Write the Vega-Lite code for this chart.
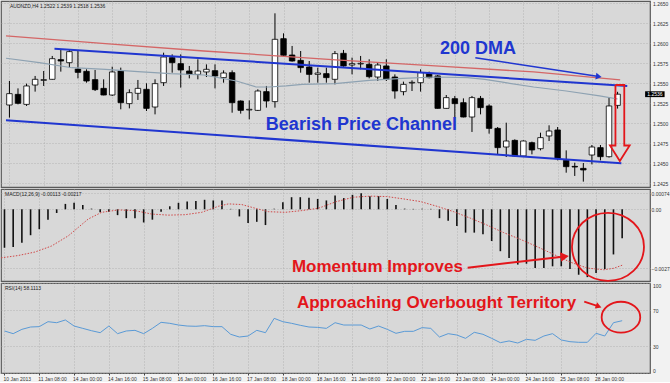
{
"$schema": "https://vega.github.io/schema/vega-lite/v6.json",
"background": "#f2f2f2",
"padding": 0,
"spacing": 2,
"bounds": "flush",
"config": {
  "view": {"fill": "#d8d8d8", "stroke": "#5a5a5a", "strokeWidth": 1.2},
  "axis": {"title": null, "labelFont": "Liberation Sans", "labelFontSize": 5, "labelColor": "#333333", "gridColor": "#a6a6a6", "gridDash": [1, 2], "gridWidth": 0.7, "domain": false, "tickColor": "#444444", "tickSize": 2, "labelPadding": 2, "minExtent": 0, "labelOverlap": false, "labelSeparation": 0, "labelBound": false},
  "text": {"font": "Liberation Sans"}
},
"resolve": {"scale": {"x": "independent", "y": "independent"}},
"datasets": {
  "candles": [
{"i":0,"o":1.25225,"h":1.25525,"l":1.25067,"c":1.25367,"m":-0.00178,"r":46.7},
{"i":1,"o":1.25358,"h":1.25433,"l":1.25233,"c":1.25246,"m":-0.00175,"r":43.7},
{"i":2,"o":1.25233,"h":1.25492,"l":1.25213,"c":1.25463,"m":-0.00155,"r":48.5},
{"i":3,"o":1.25475,"h":1.25588,"l":1.25392,"c":1.25546,"m":-0.0012,"r":51.1},
{"i":4,"o":1.25533,"h":1.2565,"l":1.25463,"c":1.25542,"m":-0.00092,"r":51.5},
{"i":5,"o":1.25546,"h":1.25838,"l":1.25542,"c":1.25804,"m":-0.00048,"r":57.0},
{"i":6,"o":1.25792,"h":1.25921,"l":1.25642,"c":1.25775,"m":-0.00017,"r":55.9},
{"i":7,"o":1.25754,"h":1.25913,"l":1.25692,"c":1.25892,"m":0.00025,"r":58.9},
{"i":8,"o":1.25675,"h":1.25908,"l":1.25558,"c":1.25633,"m":0.0003,"r":52.2},
{"i":9,"o":1.25646,"h":1.25671,"l":1.25504,"c":1.25525,"m":0.0002,"r":49.6},
{"i":10,"o":1.25542,"h":1.25663,"l":1.254,"c":1.25417,"m":0.00003,"r":47.0},
{"i":11,"o":1.25433,"h":1.25546,"l":1.25346,"c":1.2535,"m":-0.00014,"r":44.8},
{"i":12,"o":1.2535,"h":1.25704,"l":1.25338,"c":1.25638,"m":-0.00011,"r":52.2},
{"i":13,"o":1.2565,"h":1.25692,"l":1.25171,"c":1.25254,"m":-0.00027,"r":43.7},
{"i":14,"o":1.25242,"h":1.25421,"l":1.25183,"c":1.25379,"m":-0.00041,"r":46.7},
{"i":15,"o":1.25371,"h":1.25538,"l":1.25288,"c":1.25433,"m":-0.00041,"r":47.4},
{"i":16,"o":1.25421,"h":1.25496,"l":1.2515,"c":1.25183,"m":-0.00061,"r":43.7},
{"i":17,"o":1.252,"h":1.25546,"l":1.25108,"c":1.25492,"m":-0.00048,"r":49.6},
{"i":18,"o":1.25504,"h":1.25879,"l":1.25463,"c":1.25825,"m":-0.00011,"r":56.3},
{"i":19,"o":1.25817,"h":1.25858,"l":1.25629,"c":1.25754,"m":0.00014,"r":55.2},
{"i":20,"o":1.25742,"h":1.25858,"l":1.25442,"c":1.25663,"m":0.0003,"r":53.3},
{"i":21,"o":1.2565,"h":1.25713,"l":1.25558,"c":1.25608,"m":0.00036,"r":52.2},
{"i":22,"o":1.25608,"h":1.25796,"l":1.25546,"c":1.2565,"m":0.00038,"r":51.9},
{"i":23,"o":1.25638,"h":1.25733,"l":1.25575,"c":1.25671,"m":0.00044,"r":52.6},
{"i":24,"o":1.25654,"h":1.25733,"l":1.25433,"c":1.25588,"m":0.00041,"r":51.5},
{"i":25,"o":1.25567,"h":1.25658,"l":1.25504,"c":1.25625,"m":0.00041,"r":51.5},
{"i":26,"o":1.25629,"h":1.25658,"l":1.25129,"c":1.25254,"m":0.00002,"r":43.0},
{"i":27,"o":1.25275,"h":1.25283,"l":1.25117,"c":1.25158,"m":-0.00033,"r":40.0},
{"i":28,"o":1.25163,"h":1.25283,"l":1.25046,"c":1.25171,"m":-0.00064,"r":41.1},
{"i":29,"o":1.25158,"h":1.25421,"l":1.2515,"c":1.254,"m":-0.00058,"r":47.4},
{"i":30,"o":1.25392,"h":1.25463,"l":1.25192,"c":1.25275,"m":-0.00073,"r":44.8},
{"i":31,"o":1.25267,"h":1.26371,"l":1.25192,"c":1.26046,"m":0.00002,"r":60.7},
{"i":32,"o":1.26054,"h":1.26121,"l":1.25838,"c":1.25846,"m":0.00033,"r":57.0},
{"i":33,"o":1.2585,"h":1.25963,"l":1.25767,"c":1.25775,"m":0.00056,"r":55.2},
{"i":34,"o":1.25783,"h":1.259,"l":1.25629,"c":1.25692,"m":0.00056,"r":53.0},
{"i":35,"o":1.257,"h":1.25775,"l":1.25504,"c":1.25608,"m":0.00053,"r":51.1},
{"i":36,"o":1.25608,"h":1.25692,"l":1.25504,"c":1.25625,"m":0.00048,"r":50.7},
{"i":37,"o":1.25617,"h":1.25692,"l":1.25504,"c":1.25567,"m":0.00041,"r":49.6},
{"i":38,"o":1.25546,"h":1.259,"l":1.25483,"c":1.25867,"m":0.00064,"r":55.9},
{"i":39,"o":1.25871,"h":1.25913,"l":1.25704,"c":1.25713,"m":0.00052,"r":53.3},
{"i":40,"o":1.25725,"h":1.25817,"l":1.25608,"c":1.25742,"m":0.00067,"r":53.3},
{"i":41,"o":1.25738,"h":1.25838,"l":1.25671,"c":1.25746,"m":0.00074,"r":53.3},
{"i":42,"o":1.25733,"h":1.25796,"l":1.25558,"c":1.25579,"m":0.00061,"r":48.9},
{"i":43,"o":1.25575,"h":1.25754,"l":1.25525,"c":1.25725,"m":0.00061,"r":52.2},
{"i":44,"o":1.25713,"h":1.25796,"l":1.25525,"c":1.25546,"m":0.00048,"r":48.5},
{"i":45,"o":1.25575,"h":1.25608,"l":1.25304,"c":1.254,"m":0.0002,"r":44.1},
{"i":46,"o":1.25392,"h":1.25517,"l":1.25346,"c":1.25483,"m":0.00003,"r":46.3},
{"i":47,"o":1.255,"h":1.25533,"l":1.254,"c":1.25508,"m":0.00002,"r":46.3},
{"i":48,"o":1.25504,"h":1.25671,"l":1.25392,"c":1.25629,"m":0.00002,"r":50.4},
{"i":49,"o":1.25617,"h":1.25642,"l":1.25558,"c":1.25567,"m":0.00002,"r":49.6},
{"i":50,"o":1.25588,"h":1.256,"l":1.2518,"c":1.25183,"m":-0.00041,"r":40.0},
{"i":51,"o":1.25183,"h":1.2535,"l":1.2518,"c":1.25317,"m":-0.00053,"r":43.7},
{"i":52,"o":1.25304,"h":1.25338,"l":1.25067,"c":1.25242,"m":-0.00077,"r":42.2},
{"i":53,"o":1.25254,"h":1.25308,"l":1.2507,"c":1.25075,"m":-0.00108,"r":38.5},
{"i":54,"o":1.25075,"h":1.25338,"l":1.24888,"c":1.25317,"m":-0.00108,"r":45.2},
{"i":55,"o":1.25308,"h":1.25338,"l":1.25108,"c":1.25192,"m":-0.00116,"r":43.0},
{"i":56,"o":1.25213,"h":1.25233,"l":1.24867,"c":1.24933,"m":-0.00147,"r":38.5},
{"i":57,"o":1.24933,"h":1.2495,"l":1.246,"c":1.24692,"m":-0.00194,"r":33.7},
{"i":58,"o":1.247,"h":1.25004,"l":1.24575,"c":1.24775,"m":-0.00225,"r":35.6},
{"i":59,"o":1.24783,"h":1.24796,"l":1.24575,"c":1.24588,"m":-0.00256,"r":33.3},
{"i":60,"o":1.24588,"h":1.24783,"l":1.24575,"c":1.24775,"m":-0.00252,"r":37.4},
{"i":61,"o":1.24754,"h":1.24767,"l":1.24608,"c":1.24663,"m":-0.00272,"r":36.3},
{"i":62,"o":1.24679,"h":1.24879,"l":1.24658,"c":1.24817,"m":-0.00272,"r":41.1},
{"i":63,"o":1.24838,"h":1.24971,"l":1.24775,"c":1.249,"m":-0.00264,"r":43.7},
{"i":64,"o":1.24913,"h":1.2495,"l":1.24533,"c":1.24554,"m":-0.00264,"r":36.7},
{"i":65,"o":1.24533,"h":1.24658,"l":1.24379,"c":1.24454,"m":-0.00277,"r":34.8},
{"i":66,"o":1.24458,"h":1.24504,"l":1.24338,"c":1.2445,"m":-0.00303,"r":34.1},
{"i":67,"o":1.24433,"h":1.245,"l":1.24267,"c":1.24413,"m":-0.00314,"r":34.1},
{"i":68,"o":1.246,"h":1.24725,"l":1.24483,"c":1.247,"m":-0.00295,"r":44.1},
{"i":69,"o":1.24692,"h":1.24725,"l":1.24533,"c":1.24579,"m":-0.00277,"r":41.1},
{"i":70,"o":1.24579,"h":1.25317,"l":1.24567,"c":1.25213,"m":-0.00209,"r":55.9},
{"i":71,"o":1.2522,"h":1.2539,"l":1.2518,"c":1.2536,"m":-0.00134,"r":58.1}
  ],
  "ma50": [{"i":-0.4,"v":1.25809},{"i":3.5,"v":1.25754},{"i":7.3,"v":1.25691},{"i":11.2,"v":1.25671},{"i":15,"v":1.25641},{"i":18.8,"v":1.25616},{"i":22.7,"v":1.256},{"i":26.5,"v":1.25525},{"i":28.8,"v":1.2545},{"i":30.3,"v":1.2545},{"i":32.3,"v":1.25463},{"i":34.2,"v":1.25484},{"i":38,"v":1.25491},{"i":42,"v":1.25534},{"i":45.9,"v":1.25559},{"i":49.7,"v":1.25575},{"i":53.5,"v":1.25566},{"i":55.5,"v":1.25546},{"i":57.4,"v":1.25513},{"i":61.2,"v":1.2545},{"i":65,"v":1.254},{"i":68.9,"v":1.25338},{"i":71,"v":1.253}],
  "ma200": [{"i":-0.4,"v":1.26088},{"i":11.2,"v":1.25991},{"i":22.7,"v":1.259},{"i":30.3,"v":1.25846},{"i":38.1,"v":1.2579},{"i":49.7,"v":1.25713},{"i":61.2,"v":1.25638},{"i":71.3,"v":1.25538}],
  "channel": [{"g":"upper","i":5.26,"p":1.25929},{"g":"upper","i":72.13,"p":1.25463},{"g":"lower","i":-0.4,"p":1.25034},{"g":"lower","i":71.44,"p":1.24496}],
  "dmaArrow": [{"i":54.39,"p":1.25816},{"i":68.8,"p":1.25581}],
  "dmaHead": [{"i":68.8,"p":1.25581}],
  "downArrow": [{"k":1,"i":70.75,"p":1.25475},{"k":2,"i":71.78,"p":1.25475},{"k":3,"i":71.78,"p":1.24719},{"k":4,"i":72.41,"p":1.24719},{"k":5,"i":71.26,"p":1.24525},{"k":6,"i":70.11,"p":1.24719},{"k":7,"i":70.75,"p":1.24719},{"k":8,"i":70.75,"p":1.25475}],
  "mainText": [{"i":54.71,"p":1.25931,"t":"200 DMA"},{"i":41.09,"p":1.24969,"t":"Bearish Price Channel"}],
  "mainHeader": [{"i":0.06,"p":1.26463,"t":"AUDNZD,H4  1.2522 1.2539 1.2518 1.2536"}],
  "tag": [{"i":75.35,"p":1.2536,"t":"1.2536"}],
  "signal": [{"i":-0.4,"v":-0.00225},{"i":1.57,"v":-0.00214},{"i":3.49,"v":-0.00198},{"i":5.41,"v":-0.0017},{"i":7.33,"v":-0.00123},{"i":8.48,"v":-0.00084},{"i":9.63,"v":-0.00045},{"i":11.16,"v":-0.00014},{"i":13.08,"v":-0.00003},{"i":15,"v":-0.00006},{"i":16.9,"v":-0.00022},{"i":18.83,"v":-0.00027},{"i":20.75,"v":-0.00025},{"i":22.67,"v":-0.00014},{"i":24.59,"v":0.00014},{"i":25.74,"v":0.00025},{"i":27.27,"v":0.00022},{"i":28.81,"v":0.00005},{"i":30.34,"v":-0.00011},{"i":32.26,"v":-0.00014},{"i":34.18,"v":-0.00006},{"i":36.1,"v":0.00005},{"i":38.1,"v":0.00035},{"i":40.12,"v":0.00056},{"i":42.04,"v":0.00061},{"i":43.95,"v":0.00059},{"i":45.87,"v":0.00048},{"i":47.79,"v":0.00036},{"i":49.71,"v":0.00014},{"i":51.63,"v":-0.00011},{"i":53.55,"v":-0.00041},{"i":55.46,"v":-0.00073},{"i":57.38,"v":-0.00108},{"i":59.3,"v":-0.00139},{"i":61.22,"v":-0.00173},{"i":63.14,"v":-0.00209},{"i":65.06,"v":-0.00245},{"i":66.97,"v":-0.00272},{"i":68.89,"v":-0.0028},{"i":70.04,"v":-0.00273},{"i":71.0,"v":-0.00259}],
  "macdCircle": [{"i":69.37,"v":-0.001736}],
  "macdText": [{"i":42.87,"v":-0.002694,"t":"Momentum Improves"}],
  "macdArrow": [{"i":53.24,"v":-0.002704},{"i":64.4,"v":-0.00219}],
  "macdHead": [{"i":64.4,"v":-0.00219}],
  "macdHeader": [{"i":0.06,"v":0.000708,"t":"MACD(12,26,9) -0.00113 -0.00217"}],
  "rsiText": [{"i":49.66,"r":78.3,"t":"Approaching Overbought Territory"}],
  "rsiArrow": [{"i":66.64,"r":79.2},{"i":68.3,"r":74.0}],
  "rsiHead": [{"i":68.3,"r":74.0}],
  "rsiCircle": [{"i":70.86,"r":62.0}],
  "rsiHeader": [{"i":0.06,"r":94.4,"t":"RSI(14) 58.1113"}]
},
"vconcat": [
{
  "width": 649, "height": 186,
  "encoding": {"x": {"field": "i", "type": "quantitative", "scale": {"domain": [-0.4, 74.2], "nice": false, "zero": false}, "axis": {"values": [0,4,8,12,16,20,24,28,32,36,40,44,48,52,56,60,64,68], "labels": false, "ticks": false, "grid": true}}},
  "layer": [
    {"data": {"name": "candles"}, "mark": {"type": "rule", "color": "#000000", "strokeWidth": 1},
     "encoding": {"y": {"field": "l", "type": "quantitative", "scale": {"domain": [1.242, 1.26525], "nice": false, "zero": false}, "axis": {"orient": "right", "values": [1.2425,1.245,1.2475,1.25,1.2525,1.255,1.2575,1.26,1.2625,1.265], "format": ".4f", "grid": true, "ticks": false, "labelPadding": 2.5, "labelOverlap": false}}, "y2": {"field": "h"}}},
    {"data": {"name": "candles"}, "mark": {"type": "bar", "size": 5.5, "stroke": "#000000", "strokeWidth": 0.8},
     "encoding": {"y": {"field": "o", "type": "quantitative", "scale": {"domain": [1.242, 1.26525], "nice": false, "zero": false}, "axis": {"orient": "right", "values": [1.2425,1.245,1.2475,1.25,1.2525,1.255,1.2575,1.26,1.2625,1.265], "format": ".4f", "grid": true, "ticks": false, "labelPadding": 2.5, "labelOverlap": false}}, "y2": {"field": "c"}, "fill": {"condition": {"test": "datum.c > datum.o", "value": "#ffffff"}, "value": "#000000"}}},
    {"data": {"name": "ma50"}, "mark": {"type": "line", "color": "#8ea2b2", "strokeWidth": 1.2, "clip": true},
     "encoding": {"y": {"field": "v", "type": "quantitative", "scale": {"domain": [1.242, 1.26525], "nice": false, "zero": false}, "axis": {"orient": "right", "values": [1.2425,1.245,1.2475,1.25,1.2525,1.255,1.2575,1.26,1.2625,1.265], "format": ".4f", "grid": true, "ticks": false, "labelPadding": 2.5, "labelOverlap": false}}}},
    {"data": {"name": "ma200"}, "mark": {"type": "line", "color": "#d46666", "strokeWidth": 1.3, "clip": true},
     "encoding": {"y": {"field": "v", "type": "quantitative", "scale": {"domain": [1.242, 1.26525], "nice": false, "zero": false}, "axis": {"orient": "right", "values": [1.2425,1.245,1.2475,1.25,1.2525,1.255,1.2575,1.26,1.2625,1.265], "format": ".4f", "grid": true, "ticks": false, "labelPadding": 2.5, "labelOverlap": false}}}},
    {"data": {"name": "channel"}, "mark": {"type": "line", "color": "#2036d0", "strokeWidth": 2, "clip": true},
     "encoding": {"y": {"field": "p", "type": "quantitative", "scale": {"domain": [1.242, 1.26525], "nice": false, "zero": false}, "axis": {"orient": "right", "values": [1.2425,1.245,1.2475,1.25,1.2525,1.255,1.2575,1.26,1.2625,1.265], "format": ".4f", "grid": true, "ticks": false, "labelPadding": 2.5, "labelOverlap": false}}, "detail": {"field": "g"}}},
    {"data": {"name": "dmaArrow"}, "mark": {"type": "line", "color": "#2036d0", "strokeWidth": 1.6},
     "encoding": {"y": {"field": "p", "type": "quantitative", "scale": {"domain": [1.242, 1.26525], "nice": false, "zero": false}, "axis": {"orient": "right", "values": [1.2425,1.245,1.2475,1.25,1.2525,1.255,1.2575,1.26,1.2625,1.265], "format": ".4f", "grid": true, "ticks": false, "labelPadding": 2.5, "labelOverlap": false}}}},
    {"data": {"name": "dmaHead"}, "mark": {"type": "point", "shape": "triangle-right", "filled": true, "color": "#2036d0", "size": 45, "angle": 8.6, "opacity": 1},
     "encoding": {"y": {"field": "p", "type": "quantitative", "scale": {"domain": [1.242, 1.26525], "nice": false, "zero": false}, "axis": {"orient": "right", "values": [1.2425,1.245,1.2475,1.25,1.2525,1.255,1.2575,1.26,1.2625,1.265], "format": ".4f", "grid": true, "ticks": false, "labelPadding": 2.5, "labelOverlap": false}}}},
    {"data": {"name": "downArrow"}, "mark": {"type": "line", "color": "#e3161b", "strokeWidth": 1.8},
     "encoding": {"y": {"field": "p", "type": "quantitative", "scale": {"domain": [1.242, 1.26525], "nice": false, "zero": false}, "axis": {"orient": "right", "values": [1.2425,1.245,1.2475,1.25,1.2525,1.255,1.2575,1.26,1.2625,1.265], "format": ".4f", "grid": true, "ticks": false, "labelPadding": 2.5, "labelOverlap": false}}, "order": {"field": "k"}}},
    {"data": {"name": "mainText"}, "mark": {"type": "text", "font": "Liberation Sans", "fontSize": 18, "fontWeight": "bold", "color": "#2036d0", "align": "center", "baseline": "middle"},
     "encoding": {"y": {"field": "p", "type": "quantitative", "scale": {"domain": [1.242, 1.26525], "nice": false, "zero": false}, "axis": {"orient": "right", "values": [1.2425,1.245,1.2475,1.25,1.2525,1.255,1.2575,1.26,1.2625,1.265], "format": ".4f", "grid": true, "ticks": false, "labelPadding": 2.5, "labelOverlap": false}}, "text": {"field": "t"}}},
    {"data": {"name": "mainHeader"}, "mark": {"type": "text", "font": "Liberation Sans", "fontSize": 5, "color": "#222222", "align": "left", "baseline": "middle"},
     "encoding": {"y": {"field": "p", "type": "quantitative", "scale": {"domain": [1.242, 1.26525], "nice": false, "zero": false}, "axis": {"orient": "right", "values": [1.2425,1.245,1.2475,1.25,1.2525,1.255,1.2575,1.26,1.2625,1.265], "format": ".4f", "grid": true, "ticks": false, "labelPadding": 2.5, "labelOverlap": false}}, "text": {"field": "t"}}},
    {"data": {"name": "tag"}, "mark": {"type": "point", "shape": "M -1 -0.3 L 1 -0.3 L 1 0.3 L -1 0.3 Z", "filled": true, "color": "#000000", "size": 380, "opacity": 1, "clip": false},
     "encoding": {"y": {"field": "p", "type": "quantitative", "scale": {"domain": [1.242, 1.26525], "nice": false, "zero": false}, "axis": {"orient": "right", "values": [1.2425,1.245,1.2475,1.25,1.2525,1.255,1.2575,1.26,1.2625,1.265], "format": ".4f", "grid": true, "ticks": false, "labelPadding": 2.5, "labelOverlap": false}}}},
    {"data": {"name": "tag"}, "mark": {"type": "text", "font": "Liberation Sans", "fontSize": 5, "color": "#ffffff", "align": "center", "baseline": "middle", "clip": false},
     "encoding": {"y": {"field": "p", "type": "quantitative", "scale": {"domain": [1.242, 1.26525], "nice": false, "zero": false}, "axis": {"orient": "right", "values": [1.2425,1.245,1.2475,1.25,1.2525,1.255,1.2575,1.26,1.2625,1.265], "format": ".4f", "grid": true, "ticks": false, "labelPadding": 2.5, "labelOverlap": false}}, "text": {"field": "t"}}}
  ]
},
{
  "width": 649, "height": 92,
  "encoding": {"x": {"field": "i", "type": "quantitative", "scale": {"domain": [-0.4, 74.2], "nice": false, "zero": false}, "axis": {"values": [0,4,8,12,16,20,24,28,32,36,40,44,48,52,56,60,64,68], "labels": false, "ticks": false, "grid": true}}},
  "layer": [
    {"data": {"name": "candles"}, "mark": {"type": "rule", "color": "#111111", "strokeWidth": 1.6},
     "encoding": {"y": {"field": "m", "type": "quantitative", "scale": {"domain": [-0.00332, 0.00094], "nice": false, "zero": false}, "axis": {"orient": "right", "values": [0.00074, 0, -0.00273], "labelExpr": "datum.value == 0 ? '0.00' : format(datum.value, '.5f')", "grid": true, "ticks": false, "labelPadding": 1, "labelOverlap": false}}, "y2": {"datum": 0}}},
    {"data": {"name": "signal"}, "mark": {"type": "line", "color": "#d04848", "strokeWidth": 1, "strokeDash": [1.5, 1.5], "clip": true},
     "encoding": {"y": {"field": "v", "type": "quantitative", "scale": {"domain": [-0.00332, 0.00094], "nice": false, "zero": false}, "axis": {"orient": "right", "values": [0.00074, 0, -0.00273], "labelExpr": "datum.value == 0 ? '0.00' : format(datum.value, '.5f')", "grid": true, "ticks": false, "labelPadding": 1, "labelOverlap": false}}}},
    {"data": {"name": "macdCircle"}, "mark": {"type": "point", "shape": "M -1 0 C -1 -0.521 -0.552 -0.944 0 -0.944 C 0.552 -0.944 1 -0.521 1 0 C 1 0.521 0.552 0.944 0 0.944 C -0.552 0.944 -1 0.521 -1 0 Z", "filled": false, "color": "#e3161b", "strokeWidth": 1.8, "size": 5184, "opacity": 1},
     "encoding": {"y": {"field": "v", "type": "quantitative", "scale": {"domain": [-0.00332, 0.00094], "nice": false, "zero": false}, "axis": {"orient": "right", "values": [0.00074, 0, -0.00273], "labelExpr": "datum.value == 0 ? '0.00' : format(datum.value, '.5f')", "grid": true, "ticks": false, "labelPadding": 1, "labelOverlap": false}}}},
    {"data": {"name": "macdArrow"}, "mark": {"type": "line", "color": "#e3161b", "strokeWidth": 2},
     "encoding": {"y": {"field": "v", "type": "quantitative", "scale": {"domain": [-0.00332, 0.00094], "nice": false, "zero": false}, "axis": {"orient": "right", "values": [0.00074, 0, -0.00273], "labelExpr": "datum.value == 0 ? '0.00' : format(datum.value, '.5f')", "grid": true, "ticks": false, "labelPadding": 1, "labelOverlap": false}}}},
    {"data": {"name": "macdHead"}, "mark": {"type": "point", "shape": "triangle-right", "filled": true, "color": "#e3161b", "size": 90, "angle": -6.7, "opacity": 1},
     "encoding": {"y": {"field": "v", "type": "quantitative", "scale": {"domain": [-0.00332, 0.00094], "nice": false, "zero": false}, "axis": {"orient": "right", "values": [0.00074, 0, -0.00273], "labelExpr": "datum.value == 0 ? '0.00' : format(datum.value, '.5f')", "grid": true, "ticks": false, "labelPadding": 1, "labelOverlap": false}}}},
    {"data": {"name": "macdText"}, "mark": {"type": "text", "font": "Liberation Sans", "fontSize": 17, "fontWeight": "bold", "color": "#e3161b", "align": "center", "baseline": "middle"},
     "encoding": {"y": {"field": "v", "type": "quantitative", "scale": {"domain": [-0.00332, 0.00094], "nice": false, "zero": false}, "axis": {"orient": "right", "values": [0.00074, 0, -0.00273], "labelExpr": "datum.value == 0 ? '0.00' : format(datum.value, '.5f')", "grid": true, "ticks": false, "labelPadding": 1, "labelOverlap": false}}, "text": {"field": "t"}}},
    {"data": {"name": "macdHeader"}, "mark": {"type": "text", "font": "Liberation Sans", "fontSize": 5, "color": "#222222", "align": "left", "baseline": "middle"},
     "encoding": {"y": {"field": "v", "type": "quantitative", "scale": {"domain": [-0.00332, 0.00094], "nice": false, "zero": false}, "axis": {"orient": "right", "values": [0.00074, 0, -0.00273], "labelExpr": "datum.value == 0 ? '0.00' : format(datum.value, '.5f')", "grid": true, "ticks": false, "labelPadding": 1, "labelOverlap": false}}, "text": {"field": "t"}}}
  ]
},
{
  "width": 649, "height": 90,
  "encoding": {"x": {"field": "i", "type": "quantitative", "scale": {"domain": [-0.4, 74.2], "nice": false, "zero": false}, "axis": {"orient": "bottom", "values": [0,4,8,12,16,20,24,28,32,36,40,44,48,52,56,60,64,68], "labelExpr": "['10 Jan 2013','11 Jan 08:00','14 Jan 00:00','14 Jan 16:00','15 Jan 08:00','16 Jan 00:00','16 Jan 16:00','17 Jan 08:00','18 Jan 00:00','18 Jan 16:00','21 Jan 08:00','22 Jan 00:00','22 Jan 16:00','23 Jan 08:00','24 Jan 00:00','24 Jan 16:00','25 Jan 08:00','28 Jan 00:00'][round(datum.value / 4)]", "labelAlign": "left", "labelOffset": -1.5, "labelPadding": 1, "labelOverlap": false, "labelFlush": false, "ticks": true, "tickSize": 2, "grid": true}}},
  "layer": [
    {"data": {"name": "candles"}, "mark": {"type": "line", "color": "#5a9ad6", "strokeWidth": 1},
     "encoding": {"y": {"field": "r", "type": "quantitative", "scale": {"domain": [0, 100], "nice": false, "zero": false}, "axis": {"orient": "right", "values": [0, 30, 70, 100], "labelFlush": true, "grid": true, "ticks": false, "labelPadding": 2.5, "labelOverlap": false}}}},
    {"data": {"name": "rsiCircle"}, "mark": {"type": "point", "shape": "M -1 0 C -1 -0.442 -0.552 -0.8 0 -0.8 C 0.552 -0.8 1 -0.442 1 0 C 1 0.442 0.552 0.8 0 0.8 C -0.552 0.8 -1 0.442 -1 0 Z", "filled": false, "color": "#e3161b", "strokeWidth": 1.8, "size": 1490, "opacity": 1},
     "encoding": {"y": {"field": "r", "type": "quantitative", "scale": {"domain": [0, 100], "nice": false, "zero": false}, "axis": {"orient": "right", "values": [0, 30, 70, 100], "labelFlush": true, "grid": true, "ticks": false, "labelPadding": 2.5, "labelOverlap": false}}}},
    {"data": {"name": "rsiArrow"}, "mark": {"type": "line", "color": "#e3161b", "strokeWidth": 1.8},
     "encoding": {"y": {"field": "r", "type": "quantitative", "scale": {"domain": [0, 100], "nice": false, "zero": false}, "axis": {"orient": "right", "values": [0, 30, 70, 100], "labelFlush": true, "grid": true, "ticks": false, "labelPadding": 2.5, "labelOverlap": false}}}},
    {"data": {"name": "rsiHead"}, "mark": {"type": "point", "shape": "triangle-right", "filled": true, "color": "#e3161b", "size": 45, "angle": 19.8, "opacity": 1},
     "encoding": {"y": {"field": "r", "type": "quantitative", "scale": {"domain": [0, 100], "nice": false, "zero": false}, "axis": {"orient": "right", "values": [0, 30, 70, 100], "labelFlush": true, "grid": true, "ticks": false, "labelPadding": 2.5, "labelOverlap": false}}}},
    {"data": {"name": "rsiText"}, "mark": {"type": "text", "font": "Liberation Sans", "fontSize": 17, "fontWeight": "bold", "color": "#e3161b", "align": "center", "baseline": "middle"},
     "encoding": {"y": {"field": "r", "type": "quantitative", "scale": {"domain": [0, 100], "nice": false, "zero": false}, "axis": {"orient": "right", "values": [0, 30, 70, 100], "labelFlush": true, "grid": true, "ticks": false, "labelPadding": 2.5, "labelOverlap": false}}, "text": {"field": "t"}}},
    {"data": {"name": "rsiHeader"}, "mark": {"type": "text", "font": "Liberation Sans", "fontSize": 5, "color": "#222222", "align": "left", "baseline": "middle"},
     "encoding": {"y": {"field": "r", "type": "quantitative", "scale": {"domain": [0, 100], "nice": false, "zero": false}, "axis": {"orient": "right", "values": [0, 30, 70, 100], "labelFlush": true, "grid": true, "ticks": false, "labelPadding": 2.5, "labelOverlap": false}}, "text": {"field": "t"}}}
  ]
}
]
}
